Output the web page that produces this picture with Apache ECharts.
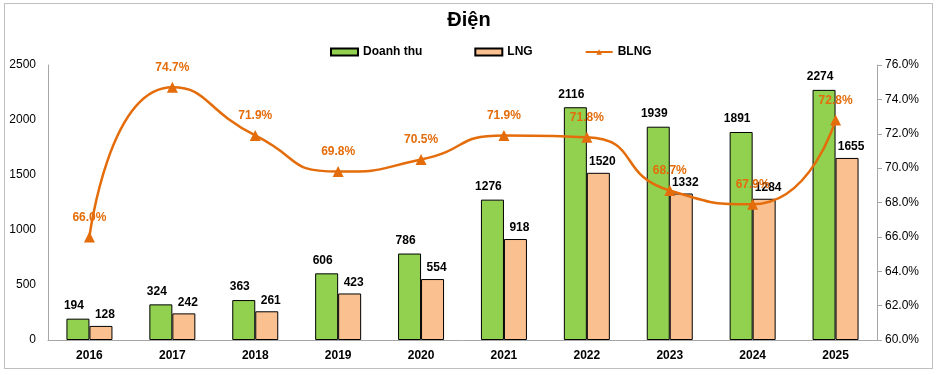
<!DOCTYPE html>
<html><head><meta charset="utf-8">
<script src="https://cdn.jsdelivr.net/npm/echarts@6/dist/echarts.min.js"></script>
<style>
html,body{margin:0;padding:0;background:#fff;}
#frame{position:absolute;left:4px;top:3px;width:927px;height:364px;border:1px solid #bfbfbf;}
#c{position:absolute;left:0;top:0;width:938px;height:375px;}
</style></head>
<body><div id="frame"></div><div id="c"></div>
<script>
const categories = ['2016','2017','2018','2019','2020','2021','2022','2023','2024','2025'];
const revenue = [194,324,363,606,786,1276,2116,1939,1891,2274];
const profit = [128,242,261,423,554,918,1520,1332,1284,1655];
const margin = [66.0,74.7,71.9,69.8,70.5,71.9,71.8,68.7,67.9,72.8];
const font = 'Liberation Sans';
const chart = echarts.init(document.getElementById('c'));
chart.setOption({
  animation:false,
  title:{text:'Điện',left:'center',top:5,textStyle:{fontFamily:font,fontSize:20,fontWeight:'bold',color:'#000'}},
  legend:{top:41,left:325,itemGap:52,itemWidth:27,itemHeight:7,textStyle:{fontFamily:font,fontSize:12,fontWeight:'bold',color:'#000'},
    data:[{name:'Doanh thu',icon:'rect'},{name:'LNG',icon:'rect'},{name:'BLNG'}]},
  grid:{left:48,right:61,top:65,bottom:35},
  xAxis:{type:'category',data:categories,axisTick:{show:false},
    axisLine:{lineStyle:{color:'#a6a6a6'}},
    axisLabel:{fontFamily:font,fontSize:12,fontWeight:'bold',color:'#000',margin:10}},
  yAxis:[
    {type:'value',min:0,max:2500,interval:500,splitLine:{show:false},
     axisLine:{show:true,lineStyle:{color:'#a6a6a6'}},axisTick:{show:false},
     axisLabel:{fontFamily:font,fontSize:12,color:'#000',margin:12,formatter:v=>String(v)}},
    {type:'value',min:60,max:76,interval:2,splitLine:{show:false},
     axisLine:{show:true,lineStyle:{color:'#a6a6a6'}},axisTick:{show:true,length:5,lineStyle:{color:'#a6a6a6'}},
     axisLabel:{fontFamily:font,fontSize:12,color:'#000',margin:8,formatter:v=>v.toFixed(1)+'%'}}
  ],
  series:[
    {name:'Doanh thu',type:'bar',data:revenue,barWidth:23,barGap:'0%',
     itemStyle:{color:'#92D050',borderColor:'#000',borderWidth:1},
     label:{show:true,position:'top',distance:7,fontFamily:font,fontSize:12,fontWeight:'bold',color:'#000',offset:[-4,0]}},
    {name:'LNG',type:'bar',data:profit,barWidth:23,
     itemStyle:{color:'#FAC090',borderColor:'#000',borderWidth:1},
     label:{show:true,position:'top',distance:5,fontFamily:font,fontSize:12,fontWeight:'bold',color:'#000',offset:[4,0]}},
    {name:'BLNG',type:'line',yAxisIndex:1,data:margin,smooth:0.6,
     symbol:'triangle',symbolSize:11,
     lineStyle:{color:'#E46C0A',width:2.5},itemStyle:{color:'#E46C0A'},
     label:{show:true,position:'top',distance:8,fontFamily:font,fontSize:12,fontWeight:'bold',color:'#E46C0A',formatter:p=>p.value.toFixed(1)+'%'}}
  ]
});
</script></body></html>
